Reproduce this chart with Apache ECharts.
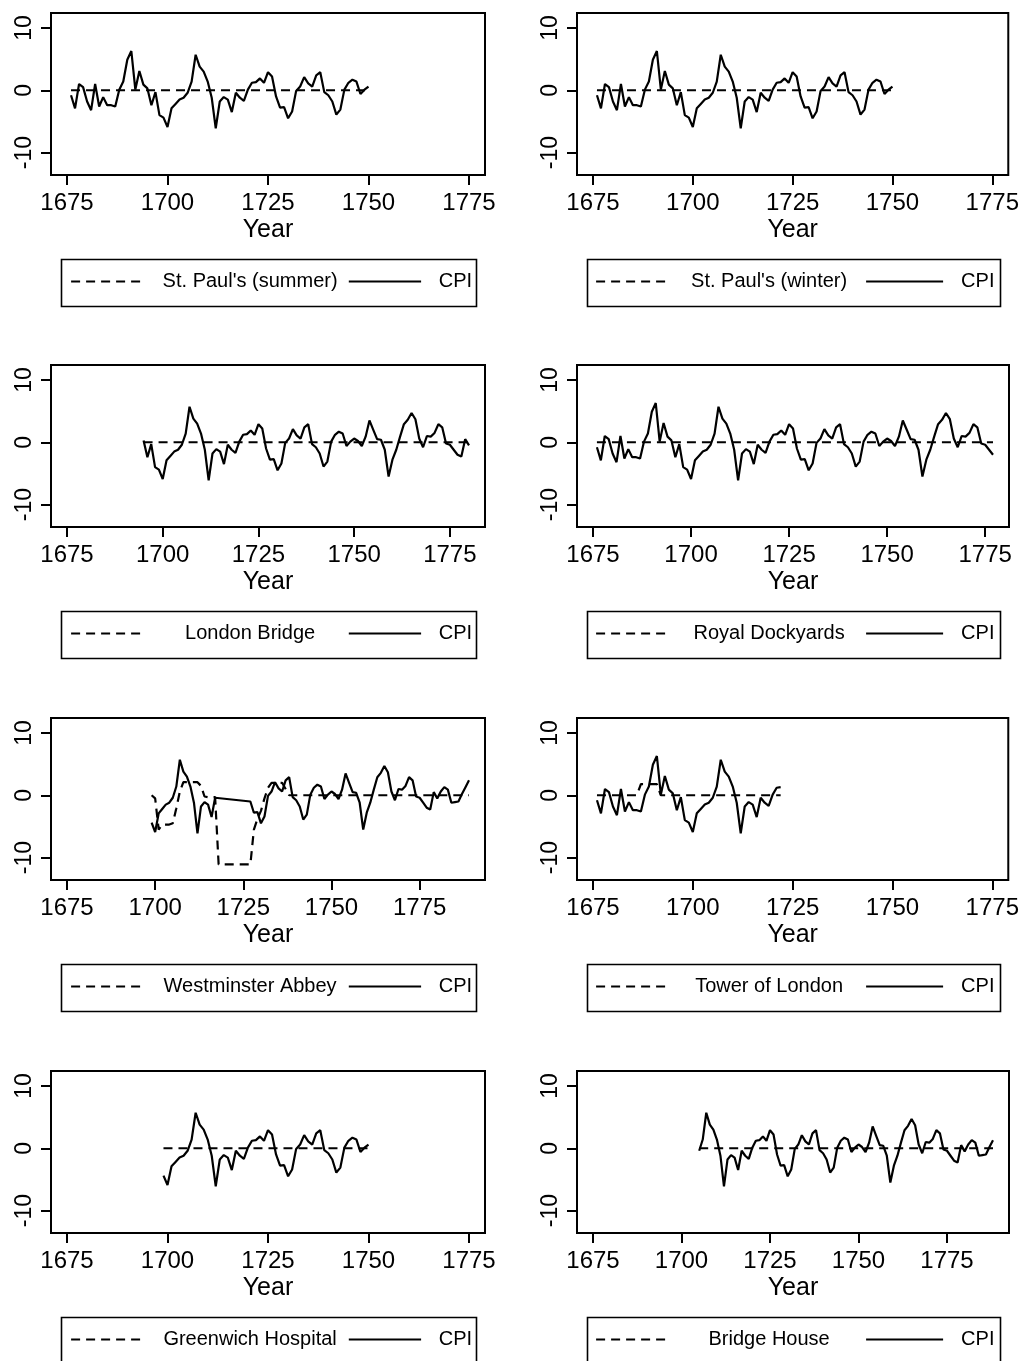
<!DOCTYPE html>
<html>
<head>
<meta charset="utf-8">
<script src="https://cdn.jsdelivr.net/npm/echarts@6/dist/echarts.min.js"></script>
<style>
html,body{margin:0;padding:0;background:#fff;}
#chart{width:1022px;height:1361px;}
</style>
</head>
<body>
<div id="chart"></div>
<script>
// ---------------- DATA ----------------
// CPI deviation, one value per year starting at cpiStartYear
const cpiStartYear = 1676;
const cpi = [
  -0.8,-2.9,1.0,0.5,-1.8,-3.2,1.0,-2.6,-1.1,-2.4,   // 1676-1685
  -2.4,-2.6,0.1,1.4,4.9,6.3,0.1,3.1,0.9,0.3,        // 1686-1695
  -2.4,-0.3,-4.0,-4.4,-5.9,-2.9,-2.2,-1.5,-1.2,-0.4,// 1696-1705
  1.4,5.7,3.8,3.0,1.4,-1.2,-6.1,-1.8,-1.1,-1.5,     // 1706-1715
  -3.5,-0.4,-1.2,-1.7,0.1,1.2,1.3,1.9,1.2,2.9,      // 1716-1725
  2.2,-1.0,-2.8,-2.7,-4.5,-3.4,-0.1,0.6,2.1,1.1,    // 1726-1735
  0.6,2.4,2.9,-0.3,-0.8,-1.8,-3.9,-3.1,0.1,1.2,     // 1736-1745
  1.7,1.4,-0.6,0.1,0.6,0.2,-0.6,0.9,3.5,2.0,        // 1746-1755
  0.5,0.4,-1.2,-5.5,-2.8,-1.2,0.9,2.9,3.6,4.7,      // 1756-1765
  3.7,0.6,-0.8,1.0,0.9,1.5,2.9,2.4,-0.2,-0.4,       // 1766-1775
  -1.2,-2.0,-2.3,0.5,-0.5,0.6,1.3,0.9,-1.2,-1.1,    // 1776-1785
  -1.0,0.2,1.3,2.4                                   // 1786-1789
];

// Dashed series, as [year, value] points
const stPaulsSummer   = [[1676,0],[1750,0]];
const stPaulsWinter   = [[1676,0],[1750,0]];
const londonBridge    = [[1695,0],[1780,0]];
const royalDockyards  = [[1676,0],[1777,0]];
const westminsterAbbey = [
  [1699,0],[1700,-0.5],[1701,-5.5],[1702,-4.7],[1703,-4.7],[1704,-4.7],[1705,-4.5],
  [1706,-2.1],[1707,0.6],[1708,2.1],[1709,2.1],[1710,2.1],[1711,2.1],[1712,2.1],
  [1713,1.5],[1714,-0.2],[1715,-0.3],[1716,-0.3],[1717,-0.3],[1718,-11.1],[1719,-11.1],
  [1720,-11.1],[1721,-11.1],[1722,-11.1],[1723,-11.1],[1724,-11.1],[1725,-11.1],
  [1726,-11.1],[1727,-11.1],[1728,-5.5],[1729,-3.8],[1730,-2.5],[1731,-0.5],[1732,1.2],
  [1733,2.0],[1734,2.0],[1735,2.0],[1736,2.0],[1737,1.0],[1738,0],[1789,0]
];
const towerOfLondon   = [[1676,0],[1686,0],[1687,1.8],[1691,1.8],[1692,0],[1722,0]];
const greenwichHospital = [[1699,0],[1750,0]];
const bridgeHouse     = [[1705,0],[1788,0]];

// Panel names and CPI year ranges
const panelNames = ["St. Paul's (summer)","St. Paul's (winter)","London Bridge","Royal Dockyards",
                    "Westminster Abbey","Tower of London","Greenwich Hospital","Bridge House"];
const panelDashed = [stPaulsSummer,stPaulsWinter,londonBridge,royalDockyards,
                     westminsterAbbey,towerOfLondon,greenwichHospital,bridgeHouse];
const cpiRanges = [[1676,1750],[1676,1750],[1695,1780],[1676,1777],
                   [1699,1789],[1676,1722],[1699,1750],[1705,1788]];
const cpiMissing = [[],[],[],[],[1718,1719,1720,1721,1722,1723,1724,1725,1726],[],[],[]];

const xTicks = [1675,1700,1725,1750,1775];
const yTicks = [-10,0,10];
const cpiLabel = 'CPI';
const xTitle = 'Year';

// ---------------- LAYOUT ----------------
const FONT = "'Liberation Sans', Arial, Helvetica, sans-serif";
const cols = [
  {left:51, width:434, legL:59, legR:474, s1:70, s1w:73, s2:347.7, s2w:72.3, cpiText:437.7, labelCenter:249},
  {left:577, width:432, legL:585, legR:998, s1:595, s1w:75, s2:865, s2w:77, cpiText:960, labelCenter:768}
];
const rowTops = [13, 365, 718, 1071];
const gridH = 162;
const yMin = -13.6, yMax = 12.4;
const edgePx = 16;
const LW = 2.2;

const mctx = document.createElement('canvas').getContext('2d');
mctx.font = "20px 'Liberation Sans'";

const grids = [], xAxes = [], yAxes = [], series = [], legends = [], graphics = [];

panelNames.forEach((name, i) => {
  const c = cols[i % 2];
  const top = rowTops[Math.floor(i / 2)];
  const rng = cpiRanges[i];
  const dashed = panelDashed[i];
  const dStart = dashed[0][0], dEnd = dashed[dashed.length - 1][0];
  const lo = Math.min(xTicks[0], rng[0], dStart);
  const hi = Math.max(xTicks[xTicks.length - 1], rng[1], dEnd);
  const pad = edgePx * (hi - lo) / (c.width - 2 * edgePx);

  grids.push({left:c.left, top:top, width:c.width, height:gridH, show:true,
              borderColor:'#000', borderWidth:2, backgroundColor:'#fff', containLabel:false});

  xAxes.push({
    type:'value', gridIndex:i, min:lo - pad, max:hi + pad, position:'bottom',
    axisLine:{show:false, onZero:false}, splitLine:{show:false},
    axisTick:{show:true, length:10, lineStyle:{color:'#000', width:2}, customValues:xTicks},
    axisLabel:{show:true, customValues:xTicks, fontSize:24, color:'#000', fontFamily:FONT, margin:16,
               formatter:(v) => String(v)},
    name:xTitle, nameLocation:'middle', nameGap:43,
    nameTextStyle:{fontSize:25, color:'#000', fontFamily:FONT}
  });
  yAxes.push({
    type:'value', gridIndex:i, min:yMin, max:yMax, position:'left',
    axisLine:{show:false, onZero:false}, splitLine:{show:false},
    axisTick:{show:true, length:10, lineStyle:{color:'#000', width:2}, customValues:yTicks},
    axisLabel:{show:true, customValues:yTicks, rotate:90, fontSize:23, color:'#000', fontFamily:FONT, margin:15,
               formatter:(v) => String(v)}
  });

  const cpiData = [];
  cpi.forEach((v, k) => {
    const yr = cpiStartYear + k;
    if (yr >= rng[0] && yr <= rng[1] && cpiMissing[i].indexOf(yr) < 0) cpiData.push([yr, v]);
  });

  series.push({
    name:name, type:'line', xAxisIndex:i, yAxisIndex:i, data:dashed,
    symbol:'none', showSymbol:false, silent:true,
    lineStyle:{color:'#000', width:LW, type:[9,6]}, z:2
  });
  series.push({
    name:cpiLabel, type:'line', xAxisIndex:i, yAxisIndex:i, data:cpiData,
    symbol:'none', showSymbol:false, silent:true,
    lineStyle:{color:'#000', width:LW, type:'solid'}, z:3
  });

  const lineY = top + 268;
  const w = mctx.measureText(name).width;
  const padA = c.labelCenter - w / 2 - c.s1 - c.s1w - 5;
  const padB = c.cpiText - c.s2 - c.s2w - 5;
  legends.push({
    data:[name], left:c.s1, top:lineY - 9.5, padding:0, itemWidth:c.s1w, itemHeight:14,
    selectedMode:false,
    itemStyle:{opacity:0},
    lineStyle:{color:'#000', width:LW, type:[9,6]},
    textStyle:{fontSize:20, color:'#000', fontFamily:FONT, padding:[0,0,0,padA]}
  });
  legends.push({
    data:[cpiLabel], left:c.s2, top:lineY - 9.5, padding:0, itemWidth:c.s2w, itemHeight:14,
    selectedMode:false,
    itemStyle:{opacity:0},
    lineStyle:{color:'#000', width:LW, type:'solid'},
    textStyle:{fontSize:20, color:'#000', fontFamily:FONT, padding:[0,0,0,padB]}
  });

  graphics.push({
    type:'rect', left:c.legL, top:top + 244,
    shape:{width:c.legR - c.legL, height:47},
    style:{fill:'none', stroke:'#000', lineWidth:1.6}, silent:true
  });
});

const chart = echarts.init(document.getElementById('chart'), null, {renderer:'canvas'});
chart.setOption({
  animation:false,
  backgroundColor:'#fff',
  grid:grids, xAxis:xAxes, yAxis:yAxes, series:series, legend:legends, graphic:graphics
});
</script>
</body>
</html>
